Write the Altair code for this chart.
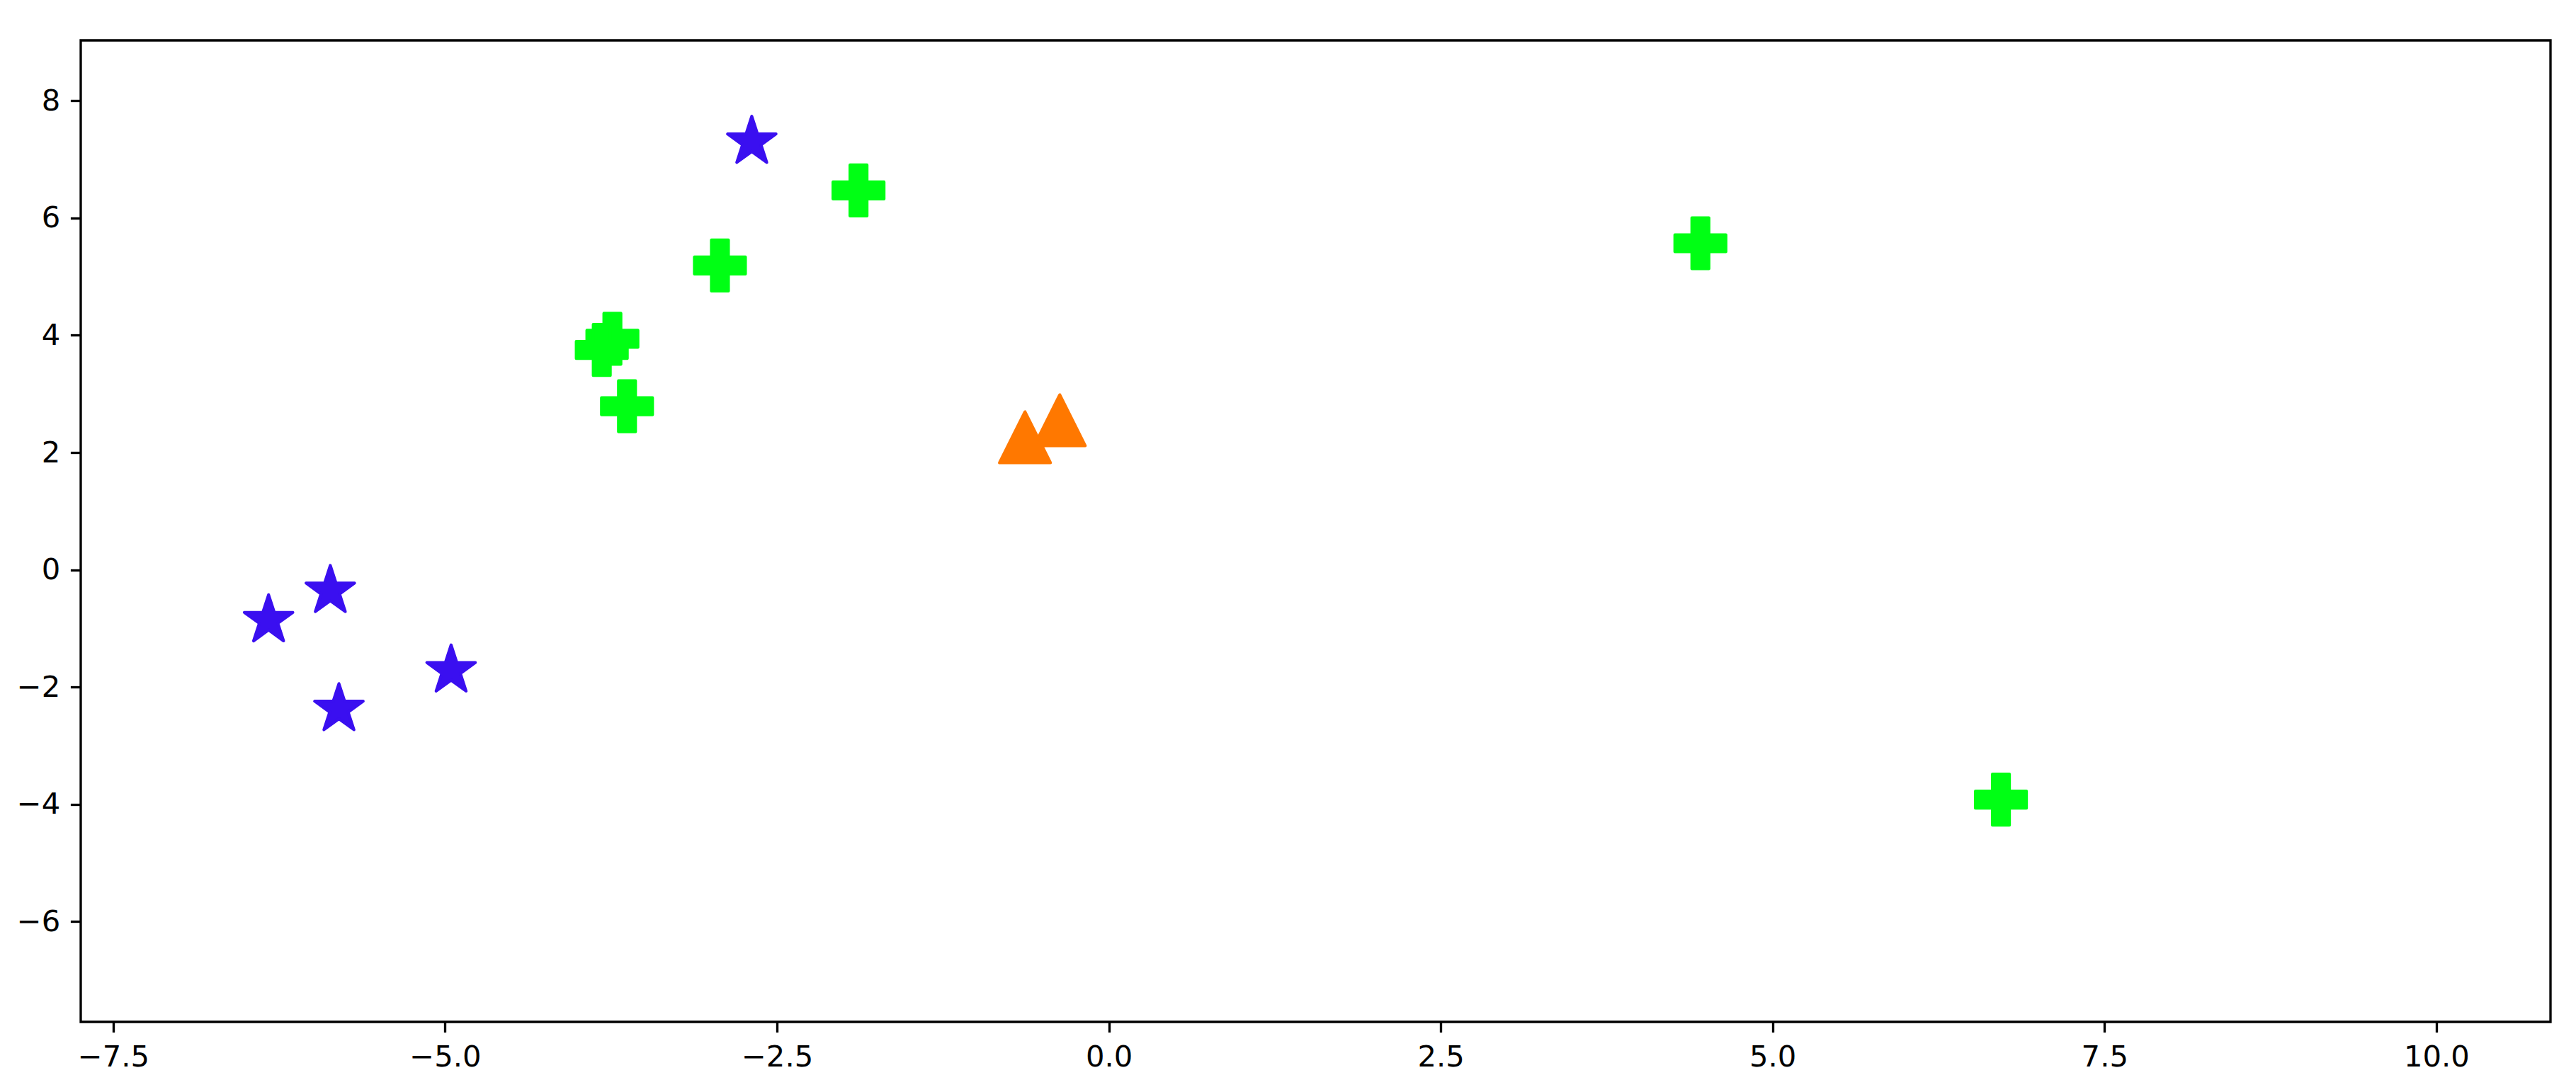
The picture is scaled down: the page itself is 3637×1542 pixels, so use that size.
import math
import altair as alt
import pandas as pd

# ---- data ----
star_x = [-2.69, -6.33, -5.865, -5.80, -4.955]
star_y = [7.30, -0.86, -0.36, -2.375, -1.716]

plus_x = [-1.886, -2.93, -3.74, -3.82, -3.63, 4.456, 6.72]
plus_y = [6.47, 5.19, 3.94, 3.75, 2.79, 5.57, -3.92]

tri_x = [-0.632, -0.37]
tri_y = [2.26, 2.55]

x_ticks = [-7.5, -5.0, -2.5, 0.0, 2.5, 5.0, 7.5, 10.0]
y_ticks = [-6, -4, -2, 0, 2, 4, 6, 8]
x_domain = [-7.745, 10.86]
y_domain = [-7.71, 9.03]

STAR_COLOR = "#3a0ff0"
PLUS_COLOR = "#00ff14"
TRI_COLOR = "#ff7800"

# ---- marker shapes (unit paths, like matplotlib's markers) ----
pts = []
for i in range(10):
    r = 1.0 if i % 2 == 0 else 0.381966
    a = -math.pi / 2 + i * math.pi / 5
    pts.append(f"{r * math.cos(a):.4f},{r * math.sin(a):.4f}")
STAR_PATH = "M" + "L".join(pts) + "Z"
PLUS_PATH = ("M-0.3333,-1L0.3333,-1L0.3333,-0.3333L1,-0.3333L1,0.3333L0.3333,0.3333"
             "L0.3333,1L-0.3333,1L-0.3333,0.3333L-1,0.3333L-1,-0.3333L-0.3333,-0.3333Z")
TRI_PATH = "M0,-1L-1,1L1,1Z"

SIZE = 5184

stars = pd.DataFrame({"x": star_x, "y": star_y})
pluses = pd.DataFrame({"x": plus_x, "y": plus_y})
tris = pd.DataFrame({"x": tri_x, "y": tri_y})

xenc = alt.X("x:Q", scale=alt.Scale(domain=x_domain, nice=False, zero=False),
             axis=alt.Axis(values=x_ticks, format=".1f", title=None, grid=False,
                           domain=False))
yenc = alt.Y("y:Q", scale=alt.Scale(domain=y_domain, nice=False, zero=False),
             axis=alt.Axis(values=y_ticks, format="d", title=None, grid=False,
                           domain=False))


def layer(df, shape, color):
    return alt.Chart(df).mark_point(
        shape=shape, filled=True, size=SIZE, fill=color, stroke=color,
        opacity=1, fillOpacity=1, strokeOpacity=1, strokeWidth=4.17,
        strokeJoin="round"
    ).encode(x=xenc, y=yenc)


chart = alt.layer(
    layer(stars, STAR_PATH, STAR_COLOR),
    layer(pluses, PLUS_PATH, PLUS_COLOR),
    layer(tris, TRI_PATH, TRI_COLOR),
).properties(
    width=3487,
    height=1386,
    autosize=alt.AutoSizeParams(type="none"),
    padding={"left": 106, "top": 49, "right": 20, "bottom": 90},
    background="white",
).configure_view(
    stroke="black", strokeWidth=3.33, fill="white"
).configure_axis(
    labelFont="DejaVu Sans",
    labelFontSize=41.7,
    labelColor="black",
    tickColor="black",
    tickWidth=3.33,
    tickSize=14.6,
    labelPadding=14.6,
)

chart.save("out.html", embed_options={"renderer": "svg", "actions": False})
